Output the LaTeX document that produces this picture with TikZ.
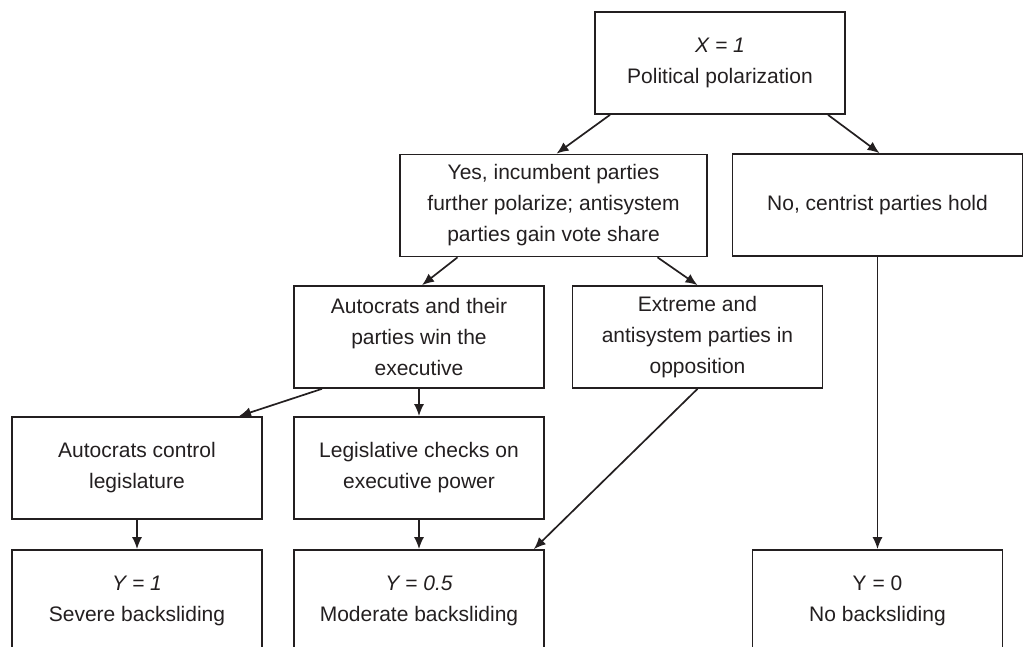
\documentclass[tikz,border=0pt]{standalone}
\definecolor{InkGray}{RGB}{35, 31, 32}
\usepackage{fontspec}
\setmainfont{Liberation Sans}
\usepackage{tikz}
\usetikzlibrary{arrows.meta, positioning}

\begin{document}
\begin{tikzpicture}[x=0.5pt, y=-0.5pt,
    box/.style={draw=InkGray, line width=0.85pt, text=InkGray, align=center,
                minimum width=125pt, minimum height=51pt, inner sep=0pt,
                font=\fontsize{10.5}{15.5}\selectfont},
    arr/.style={-{Latex[length=6pt, width=5pt]}, draw=InkGray, line width=0.85pt}]
    \useasboundingbox (0,0) rectangle (1028,647);

    % Cause
    \node[box] (top) at (720, 63) {\textit{X = 1}\\Political polarization};

    % First split
    \node[box, minimum width=153.5pt] (yes) at (553.5, 205.5)
        {Yes, incumbent parties\\further polarize; antisystem\\parties gain vote share};
    \node[box, minimum width=145pt] (no) at (877.5, 205) {No, centrist parties hold};

    % Second split
    \node[box] (win) at (419, 337) {Autocrats and their\\parties win the\\executive};
    \node[box] (opp) at (697.5, 337) {Extreme and\\antisystem parties in\\opposition};

    % Legislature
    \node[box] (ctrl) at (137, 468) {Autocrats control\\legislature};
    \node[box] (chk) at (419, 468) {Legislative checks on\\executive power};

    % Outcomes
    \node[box] (severe) at (137, 601) {\textit{Y = 1}\\Severe backsliding};
    \node[box] (moderate) at (419, 601) {\textit{Y = 0.5}\\Moderate backsliding};
    \node[box] (none) at (877.5, 601) {Y = 0\\No backsliding};

    % Arrows
    \draw[arr] ([xshift=-55pt]top.south) -- ([xshift=1.5pt]yes.north);
    \draw[arr] ([xshift=54pt]top.south) -- ([xshift=1pt]no.north);
    \draw[arr] ([xshift=-48pt]yes.south) -- ([xshift=1.5pt]win.north);
    \draw[arr] ([xshift=52pt]yes.south) -- (opp.north);
    \draw[arr] ([xshift=-48.5pt]win.south) -- ([xshift=51pt]ctrl.north);
    \draw[arr] (win.south) -- (chk.north);
    \draw[arr] (ctrl.south) -- (severe.north);
    \draw[arr] (chk.south) -- (moderate.north);
    \draw[arr] (opp.south) -- ([xshift=-5.5pt]moderate.north east);
    \draw[arr] (no.south) -- (none.north);
\end{tikzpicture}
\end{document}
